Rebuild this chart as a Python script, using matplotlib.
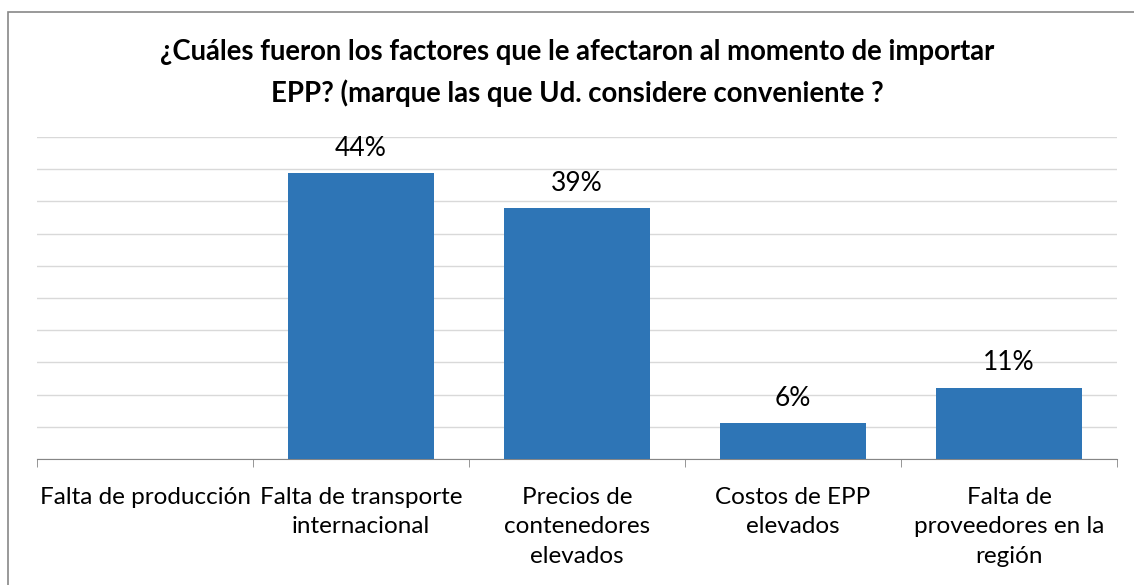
import matplotlib
matplotlib.use("Agg")
import matplotlib.pyplot as plt
from matplotlib.patches import Rectangle

plt.rcParams['font.family'] = ['Lato', 'DejaVu Sans']

categories = ["Falta de producción", "Falta de transporte\ninternacional",
              "Precios de\ncontenedores\nelevados", "Costos de EPP\nelevados",
              "Falta de\nproveedores en la\nregión"]
values = [0.0, 0.444, 0.389, 0.056, 0.111]
labels = ["", "44%", "39%", "6%", "11%"]
title = ("¿Cuáles fueron los factores que le afectaron al momento de importar\n"
         "EPP? (marque las que Ud. considere conveniente ?")

W, H = 1134, 585
fig = plt.figure(figsize=(W / 100, H / 100), dpi=100)
ax = fig.add_axes([37 / W, 1 - 459 / H, (1117 - 37) / W, (459 - 137) / H])

# outer chart border (runs off the right and bottom edge)
fig.patches.append(Rectangle((8 / W, -0.05), 1.1, 1 - 12 / H + 0.05,
                             transform=fig.transFigure, fill=False,
                             edgecolor="#888888", linewidth=1.2))

x = list(range(len(categories)))
bars = ax.bar(x, values, width=0.676, color="#2E75B6", zorder=3)

for b, lab in zip(bars, labels):
    if lab:
        ax.text(b.get_x() + b.get_width() / 2, b.get_height() + 0.019, lab,
                ha="center", va="bottom", fontsize=19, color="#000000")

ax.set_xlim(-0.5, len(categories) - 0.5)
ax.set_ylim(0, 0.5)
ax.set_yticks([i * 0.05 for i in range(11)])
ax.yaxis.grid(True, color="#D9D9D9", linewidth=1.0, zorder=0)
ax.tick_params(axis="y", left=False, labelleft=False)

ax.set_xticks(x)
ax.set_xticklabels(categories, fontsize=17.5, linespacing=1.5)
ax.set_xticks([i - 0.5 for i in range(len(categories) + 1)], minor=True)
ax.tick_params(axis="x", which="major", length=0, pad=20)
ax.tick_params(axis="x", which="minor", length=6, color="#868686")
for lab in ax.get_xticklabels():
    lab.set_verticalalignment("top")

for s in ["top", "right", "left"]:
    ax.spines[s].set_visible(False)
ax.spines["bottom"].set_color("#868686")

fig.text(577 / W, 1 - 73 / H, title, ha="center", va="center",
         fontsize=19.8, fontweight="bold", linespacing=1.6)

fig.savefig("out.png", dpi=100)
